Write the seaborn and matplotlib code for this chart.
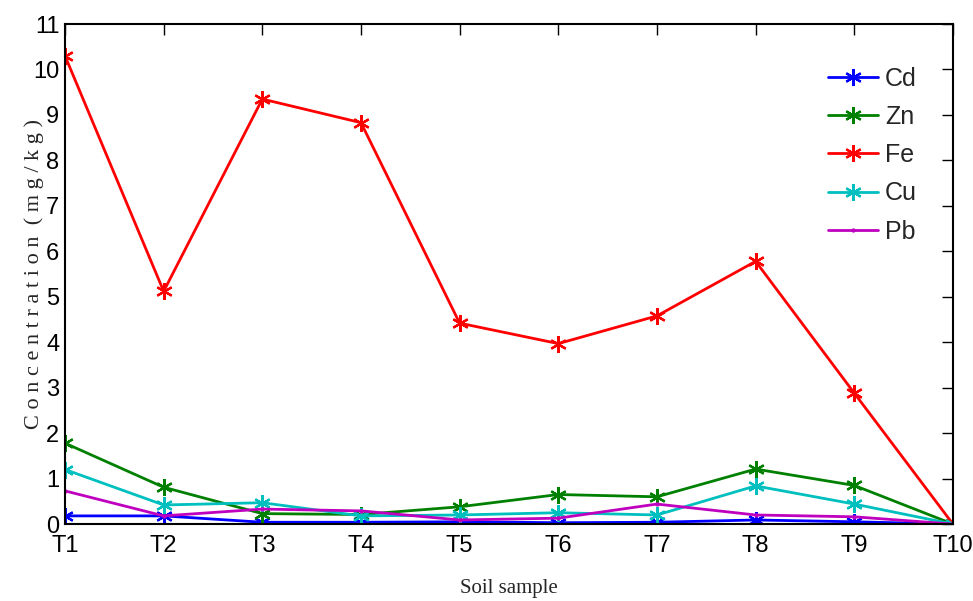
import numpy as np
import pandas as pd
import matplotlib
matplotlib.use("Agg")
import matplotlib.pyplot as plt
import seaborn as sns

samples = ["T1", "T2", "T3", "T4", "T5", "T6", "T7", "T8", "T9", "T10"]
cd = [0.18, 0.18, 0.04, 0.04, 0.05, 0.03, 0.04, 0.09, 0.05, 0.0]
zn = [1.78, 0.81, 0.23, 0.21, 0.38, 0.65, 0.60, 1.21, 0.85, 0.0]
fe = [10.3, 5.12, 9.35, 8.83, 4.42, 3.97, 4.58, 5.78, 2.88, 0.0]
cu = [1.20, 0.42, 0.47, 0.18, 0.20, 0.25, 0.20, 0.84, 0.44, 0.0]
pb = [0.73, 0.18, 0.33, 0.29, 0.09, 0.13, 0.44, 0.20, 0.16, 0.0]
elements = ["Cd", "Zn", "Fe", "Cu", "Pb"]
colors = ["#0000ff", "#008000", "#ff0000", "#00bfbf", "#bf00bf"]
y_ticks = list(range(0, 12))

df = pd.DataFrame({
    "sample": np.tile(np.arange(len(samples)), len(elements)),
    "value": cd + zn + fe + cu + pb,
    "element": np.repeat(elements, len(samples)),
})

sns.set_style("white")
plt.rcParams["font.family"] = ["Liberation Sans", "DejaVu Sans"]

fig = plt.figure(figsize=(9.73, 6.01), dpi=100)
ax = fig.add_axes([0.0668, 0.128, 0.9126, 0.832])

asterisk = (6, 2, 0)
markers = {e: asterisk for e in elements}
sns.lineplot(data=df, x="sample", y="value", hue="element", style="element",
             hue_order=elements, style_order=elements,
             palette=dict(zip(elements, colors)), markers=markers, dashes=False,
             linewidth=2.0, markersize=12, markeredgewidth=1.6, ax=ax, legend=True)

pb_color = matplotlib.colors.to_rgba(colors[-1])


def style_marker(line):
    # asterisks take the line colour; Pb gets a small point instead
    line.set_markeredgecolor(line.get_color())
    line.set_markerfacecolor(line.get_color())
    if np.allclose(matplotlib.colors.to_rgba(line.get_color()), pb_color):
        line.set_marker(".")
        line.set_markersize(3)


for line in ax.lines:
    style_marker(line)

ax.set_xlim(0, len(samples) - 1)
ax.set_ylim(0, 11)
ax.set_xticks(range(len(samples)))
ax.set_xticklabels(samples)
ax.set_yticks(y_ticks)
ax.tick_params(direction="in", length=8, width=1, top=True, right=True,
               labelsize=17, colors="black")
ax.tick_params(axis="y", pad=4)
ax.tick_params(axis="x", pad=8)
for s in ax.spines.values():
    s.set_visible(True)
    s.set_color("black")
    s.set_linewidth(1.5)

ax.set_xlabel("Soil sample", family="Liberation Serif", fontsize=15, labelpad=16)
ax.set_ylabel("C o n c e n t r a t i o n  ( m g / k g )", family="Liberation Serif",
              fontsize=16)
ax.yaxis.set_label_coords(-0.024, 0.5)

leg = ax.legend(loc="upper right", bbox_to_anchor=(0.985, 0.96), frameon=False,
                fontsize=18, handlelength=2.0, handletextpad=0.3, labelspacing=0.57)
for h in leg.legend_handles:
    h.set_linewidth(2.0)
    style_marker(h)

fig.savefig("out.png", dpi=100, facecolor="white")
